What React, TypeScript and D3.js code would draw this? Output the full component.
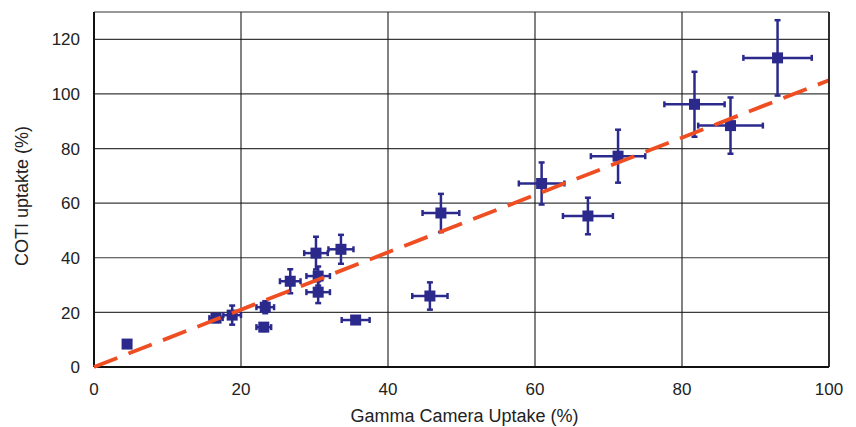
import * as d3 from 'd3'

// Gamma camera vs COTI uptake, with x/y error bars
const gammaUptake = [4.5, 16.6, 18.8, 23.1, 23.3, 26.7, 30.2, 30.5, 30.5, 33.6, 35.6, 45.7, 47.2, 60.9, 67.2, 71.3, 81.7, 86.6, 93.0]
const cotiUptake = [8.4, 17.9, 19.0, 14.6, 21.9, 31.4, 41.7, 33.3, 27.4, 43.1, 17.2, 26.0, 56.4, 67.2, 55.3, 77.2, 96.2, 88.4, 113.2]
const gammaErr = [0, 0.9, 1.2, 1.0, 1.2, 1.4, 1.6, 1.6, 1.6, 1.7, 1.9, 2.4, 2.5, 3.1, 3.4, 3.7, 4.1, 4.4, 4.65]
const cotiErr = [0, 1.4, 3.5, 1.4, 2.2, 4.4, 6.0, 3.5, 4.0, 5.3, 1.2, 5.0, 7.0, 7.7, 6.7, 9.7, 11.9, 10.3, 13.8]
const xTicks = [0, 20, 40, 60, 80, 100]
const yTicks = [0, 20, 40, 60, 80, 100, 120]
const fitX = [0, 100]
const fitSlope = 1.05

const W = 856
const H = 427
const margin = { left: 94, top: 12, right: 27, bottom: 60 }
const NAVY = '#2b2a8c'
const FONT = '"Liberation Sans", Arial, sans-serif'

export default function App() {
  const iw = W - margin.left - margin.right
  const ih = H - margin.top - margin.bottom

  const x = d3.scaleLinear().domain([0, 100]).range([0, iw])
  const y = d3.scaleLinear().domain([0, 130]).range([ih, 0])

  const pts = gammaUptake.map((g, i) => ({ g, c: cotiUptake[i], ge: gammaErr[i], ce: cotiErr[i] }))
  const fitLine = d3.line<number>().x((d) => x(d)).y((d) => y(d * fitSlope))
  const cap = 3
  const ms = 11

  return (
    <svg width={W} height={H} style={{ position: 'absolute', left: 0, top: 0, background: '#fff' }} fontFamily={FONT}>
      <g transform={`translate(${margin.left},${margin.top})`}>
        {/* grid */}
        {yTicks.slice(1).map((t) => (
          <line key={'gy' + t} x1={0} x2={iw} y1={y(t)} y2={y(t)} stroke="#3a3a3a" strokeWidth={1.2} />
        ))}
        {xTicks.slice(1).map((t) => (
          <line key={'gx' + t} x1={x(t)} x2={x(t)} y1={0} y2={ih} stroke="#1a1a1a" strokeWidth={1.1} />
        ))}
        <line x1={0} x2={iw} y1={0} y2={0} stroke="#333" strokeWidth={1.2} />
        <line x1={0} x2={0} y1={0} y2={ih} stroke="#111" strokeWidth={2} />
        <line x1={0} x2={iw} y1={ih} y2={ih} stroke="#111" strokeWidth={2} />

        {/* tick labels */}
        {yTicks.map((t) => (
          <text key={'ty' + t} x={-14} y={y(t)} dy="0.36em" textAnchor="end" fontSize={17} fill="#222">
            {t}
          </text>
        ))}
        {xTicks.map((t) => (
          <text key={'tx' + t} x={x(t)} y={ih + 28} textAnchor="middle" fontSize={17} fill="#222">
            {t}
          </text>
        ))}

        {/* error bars + markers */}
        {pts.map((d, i) => {
          const cx = x(d.g)
          const cy = y(d.c)
          const x0 = x(d.g - d.ge)
          const x1 = x(d.g + d.ge)
          const y0 = y(d.c - d.ce)
          const y1 = y(d.c + d.ce)
          return (
            <g key={i} stroke={NAVY} strokeWidth={2.5}>
              {d.ge > 0 && (
                <>
                  <line x1={x0} x2={x1} y1={cy} y2={cy} />
                  <line x1={x0} x2={x0} y1={cy - cap} y2={cy + cap} />
                  <line x1={x1} x2={x1} y1={cy - cap} y2={cy + cap} />
                </>
              )}
              {d.ce > 0 && (
                <>
                  <line x1={cx} x2={cx} y1={y0} y2={y1} />
                  <line x1={cx - cap} x2={cx + cap} y1={y0} y2={y0} />
                  <line x1={cx - cap} x2={cx + cap} y1={y1} y2={y1} />
                </>
              )}
              <rect x={cx - ms / 2} y={cy - ms / 2} width={ms} height={ms} fill={NAVY} stroke="none" />
            </g>
          )
        })}

        {/* fitted line */}
        <path d={fitLine(fitX) ?? ''} fill="none" stroke="#ef4e23" strokeWidth={3.8} strokeDasharray="25 12" />

        {/* right border */}
        <line x1={iw} x2={iw} y1={0} y2={ih} stroke="#111" strokeWidth={1.5} />
      </g>

      <text x={margin.left + iw / 2 + 3} y={H - 5} textAnchor="middle" fontSize={18} fill="#222">
        Gamma Camera Uptake (%)
      </text>
      <text transform={`translate(28,196) rotate(-90)`} textAnchor="middle" fontSize={18} fill="#222">
        COTI uptakte (%)
      </text>
    </svg>
  )
}
